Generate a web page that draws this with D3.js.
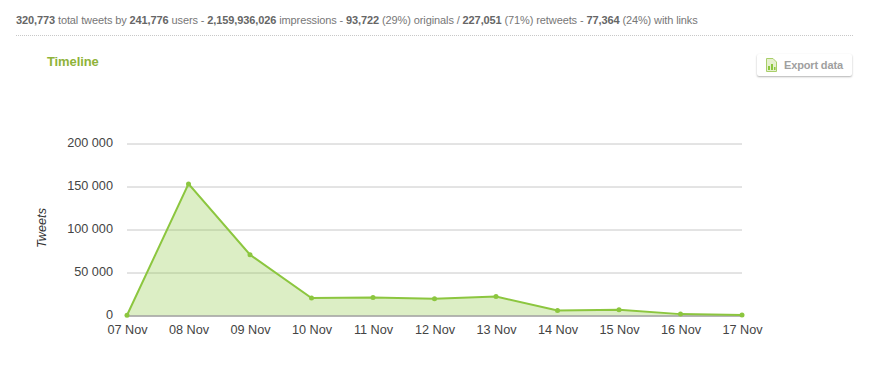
<!DOCTYPE html>
<html>
<head>
<meta charset="utf-8">
<script src="https://cdn.jsdelivr.net/npm/d3@7"></script>
<style>
  html, body { margin: 0; padding: 0; background: #fff; }
  body { width: 872px; height: 370px; overflow: hidden; position: relative; font-family: "Liberation Sans", Arial, sans-serif; }
  #stats { position: absolute; left: 16px; top: 14px; font-size: 11px; line-height: 13px; color: #777; white-space: nowrap; letter-spacing: -0.11px; }
  #stats b { color: #666; }
  #rule { position: absolute; left: 16px; top: 35px; width: 837px; border-top: 1px dotted #c8c8c8; }
  #title { position: absolute; left: 47px; top: 54px; font-size: 13px; line-height: 16px; font-weight: bold; color: #8fb339; letter-spacing: -0.1px; }
  #export { position: absolute; left: 757px; top: 54px; width: 95px; height: 22px; border-radius: 2px; background: #fff; box-shadow: 0 1px 2px rgba(0,0,0,.3); font-size: 11px; font-weight: bold; color: #a0a0a0; line-height: 23px; box-sizing: border-box; padding-left: 27px; white-space: nowrap; letter-spacing: -0.15px; }
  #export svg { position: absolute; left: 9px; top: 4px; }
  .axis text { font-family: "Liberation Sans", Arial, sans-serif; font-size: 12.7px; fill: #444; }
</style>
</head>
<body>
<div id="stats"></div>
<div id="rule"></div>
<div id="title">Timeline</div>
<div id="export">
  <svg width="11" height="14" viewBox="0 0 11 14">
    <path d="M0.5 0.5H7L10.5 4V13.5H0.5Z" fill="#e6f0cf" stroke="#a9cf6a"/>
    <path d="M2 12V8H4V12ZM5 12V6H7V12ZM8 12V9H9.5V12Z" fill="#8cc63f"/>
  </svg>
  Export data
</div>
<svg id="chart"></svg>
<script>
const days = ['07 Nov', '08 Nov', '09 Nov', '10 Nov', '11 Nov', '12 Nov', '13 Nov', '14 Nov', '15 Nov', '16 Nov', '17 Nov'];
const tweets = [300, 153000, 70700, 20300, 20800, 19500, 22000, 5700, 6600, 1600, 600];
const yTicks = [0, 50000, 100000, 150000, 200000];
const statParts = [
  ['320,773', ' total tweets by '], ['241,776', ' users - '], ['2,159,936,026', ' impressions - '],
  ['93,722', ' (29%) originals / '], ['227,051', ' (71%) retweets - '], ['77,364', ' (24%) with links']
];

const stats = d3.select('#stats');
statParts.forEach(p => {
  stats.append('b').text(p[0]);
  stats.append('span').text(p[1]);
});

const margin = {top: 143.5, left: 127};
const width = 615, height = 172;

const svg = d3.select('#chart')
  .attr('width', 872)
  .attr('height', 370)
  .style('position', 'absolute')
  .style('left', 0)
  .style('top', 0);

const chart = svg.append('g')
  .attr('transform', `translate(${margin.left},${margin.top})`);

const xScale = d3.scalePoint().domain(days).range([0, width]);
const yScale = d3.scaleLinear().domain([0, 200000]).range([height, 0]);

const fmt = d => d3.format(',')(d).replace(/,/g, ' ');

// gridlines + labels
const yAxisG = chart.append('g')
  .attr('class', 'axis')
  .call(d3.axisLeft(yScale).tickValues(yTicks).tickSize(-width).tickPadding(14).tickFormat(fmt))
  .call(g => g.select('.domain').remove());
yAxisG.selectAll('line').attr('stroke', '#c8c8c8');
yAxisG.selectAll('text').attr('dy', '0.25em');

const area = d3.area()
  .x((d, i) => xScale(days[i]))
  .y0(height)
  .y1(d => yScale(d));

const line = d3.line()
  .x((d, i) => xScale(days[i]))
  .y(d => yScale(d));

chart.append('path')
  .attr('d', area(tweets))
  .attr('fill', '#8cc63f')
  .attr('fill-opacity', 0.3);

const xAxisG = chart.append('g')
  .attr('class', 'axis')
  .attr('transform', `translate(0,${height})`)
  .call(d3.axisBottom(xScale).tickSize(0).tickPadding(9));
xAxisG.select('.domain').attr('stroke', '#888');

chart.append('path')
  .attr('d', line(tweets))
  .attr('fill', 'none')
  .attr('stroke', '#8cc63f')
  .attr('stroke-width', 2);

chart.selectAll('.point')
  .data(tweets)
  .join('circle')
  .attr('class', 'point')
  .attr('r', 2.5)
  .attr('cx', (d, i) => xScale(days[i]))
  .attr('cy', d => yScale(d))
  .attr('fill', '#8cc63f');

svg.append('text')
  .attr('transform', 'translate(46,228) rotate(-90)')
  .attr('text-anchor', 'middle')
  .style('font-family', '"Liberation Sans", Arial, sans-serif')
  .style('font-size', '12.7px')
  .style('font-style', 'italic')
  .attr('fill', '#333')
  .text('Tweets');
</script>
</body>
</html>
